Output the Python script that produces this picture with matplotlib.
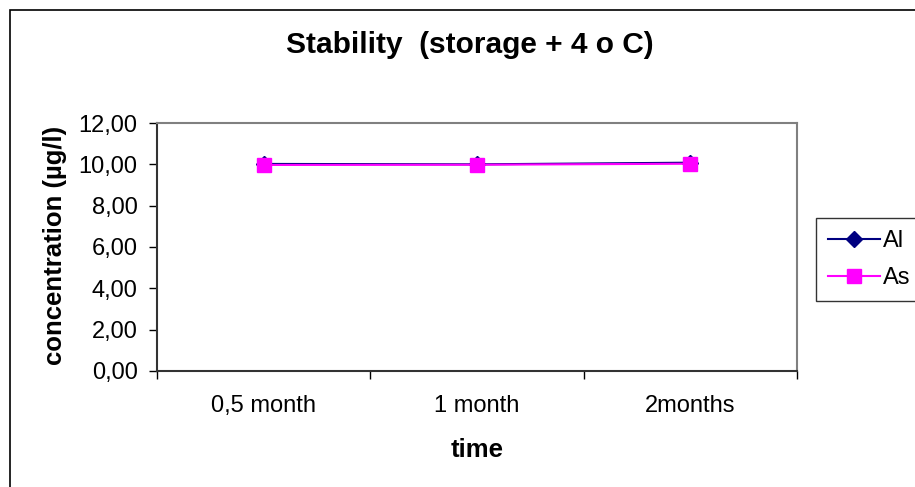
import matplotlib
matplotlib.use("Agg")
import matplotlib.pyplot as plt
from matplotlib.patches import Rectangle

# data
categories = ["0,5 month", "1 month", "2months"]
al_values = [10.02, 10.00, 10.08]
as_values = [9.97, 9.98, 10.03]
y_ticks = [0, 2, 4, 6, 8, 10, 12]

plt.rcParams['font.family'] = ['Liberation Sans', 'DejaVu Sans']

W, H = 915, 487
fig = plt.figure(figsize=(W / 100, H / 100), dpi=100)

# outer chart border (runs off the right and bottom edge)
fig.patches.append(Rectangle((10 / W, -0.05), 1.0, 1 - 10 / H + 0.05,
                             transform=fig.transFigure, fill=False,
                             edgecolor='black', linewidth=1.2))

ax = fig.add_axes([157 / W, 1 - 371 / H, (797 - 157) / W, (371 - 123) / H])

x = list(range(len(categories)))
ax.plot(x, al_values, color='#000080', marker='D', markersize=8,
        linewidth=1.5, label='Al', clip_on=False)
ax.plot(x, as_values, color='#FF00FF', marker='s', markersize=9.5,
        linewidth=1.5, label='As', clip_on=False)

ax.set_xlim(-0.5, len(categories) - 0.5)
ax.set_ylim(0, 12)
ax.set_yticks(y_ticks)
ax.set_yticklabels([f"{v:.2f}".replace('.', ',') for v in y_ticks], fontsize=17)

# category labels between tick marks, like Excel
ax.set_xticks([i - 0.5 for i in range(len(categories) + 1)])
ax.set_xticklabels([])
ax.set_xticks(x, minor=True)
ax.set_xticklabels(categories, minor=True, fontsize=17)
ax.tick_params(axis='x', which='minor', length=0, pad=17)
ax.tick_params(axis='x', which='major', direction='out', length=6, width=1)
ax.tick_params(axis='y', direction='out', length=6, width=1, pad=8)

for side in ['top', 'right']:
    ax.spines[side].set_color('#808080')
    ax.spines[side].set_linewidth(1.5)
for side in ['left', 'bottom']:
    ax.spines[side].set_color('#333333')
    ax.spines[side].set_linewidth(1.5)

ax.set_xlabel('time', fontsize=18.5, fontweight='bold', va='center')
ax.xaxis.set_label_coords(0.5, (371 - 450) / 248)
ax.set_ylabel('concentration (µg/l)', fontsize=18.5, fontweight='bold', va='center')
ax.yaxis.set_label_coords((55 - 157) / 640, 0.505)
fig.text(470 / W, 1 - 45 / H, 'Stability  (storage + 4 o C)', fontsize=21.5,
         fontweight='bold', ha='center', va='center')

leg = fig.legend(loc='upper left', bbox_to_anchor=(816 / W, 1 - 218 / H),
                 fontsize=17, frameon=True, fancybox=False, edgecolor='black',
                 handlelength=2.2, handletextpad=0.15, borderpad=0.5,
                 labelspacing=0.65, borderaxespad=0)
leg.get_frame().set_linewidth(1.0)

fig.savefig('out.png', dpi=100)
